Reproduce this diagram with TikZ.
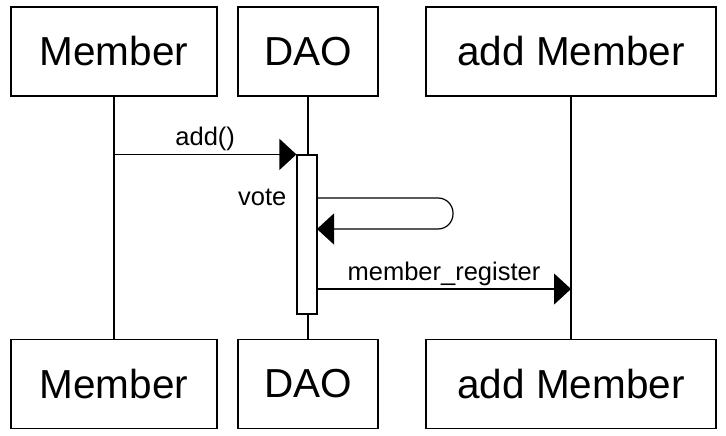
\documentclass[tikz,border=0pt]{standalone}
\usepackage{fontspec}
\setmainfont{Liberation Sans}
\usetikzlibrary{arrows.meta}

\begin{document}
\begin{tikzpicture}[
        x=1pt, y=-1pt,
        line width=1.2pt,
        actor/.style={draw, fill=white, minimum height=89pt, inner sep=0pt,
          font=\fontsize{40.5}{48}\selectfont},
        msg/.style={draw, -{Triangle[length=17pt,width=31pt]}},
        lbl/.style={font=\fontsize{25.5}{29}\selectfont, inner sep=3pt}
      ]
      \useasboundingbox (0,0) rectangle (726,436);

      % heads
      \node[actor, minimum width=206pt] (m1) at (114,51.5) {Member};
      \node[actor, minimum width=140pt] (d1) at (308,51.5) {DAO};
      \node[actor, minimum width=290pt] (r1) at (571,51.5) {add Member};
      % feet
      \node[actor, minimum width=206pt] (m2) at (114,384) {Member};
      \node[actor, minimum width=140pt] (d2) at (308,384) {DAO};
      \node[actor, minimum width=290pt] (r2) at (571,384) {add Member};

      % lifelines
      \draw (m1) -- (m2);
      \draw (d1) -- (d2);
      \draw (r1) -- (r2);

      % activation
      \node[draw, fill=white, minimum width=20pt, minimum height=159pt,
        inner sep=0pt] (act) at (307,234.5) {};

      \coordinate (a1) at (m1 |- act.north);
      \coordinate (v1) at (317,198);
      \coordinate (v2) at (317,229);
      \coordinate (w1) at (317,289);
      \coordinate (w2) at (r1 |- w1);

      \draw[msg] (a1) -- (act.north west) node[lbl, midway, above] {add()};
      \draw[msg, rounded corners=15pt] (v1) -- (453,198) -- (453,229) -- (v2);
      \node[lbl, anchor=east] (vote) at (290,197) {vote};
      \draw[msg] (w1) -- (w2) node[lbl, midway, above] {member\_register};

      \end{tikzpicture}
\end{document}
